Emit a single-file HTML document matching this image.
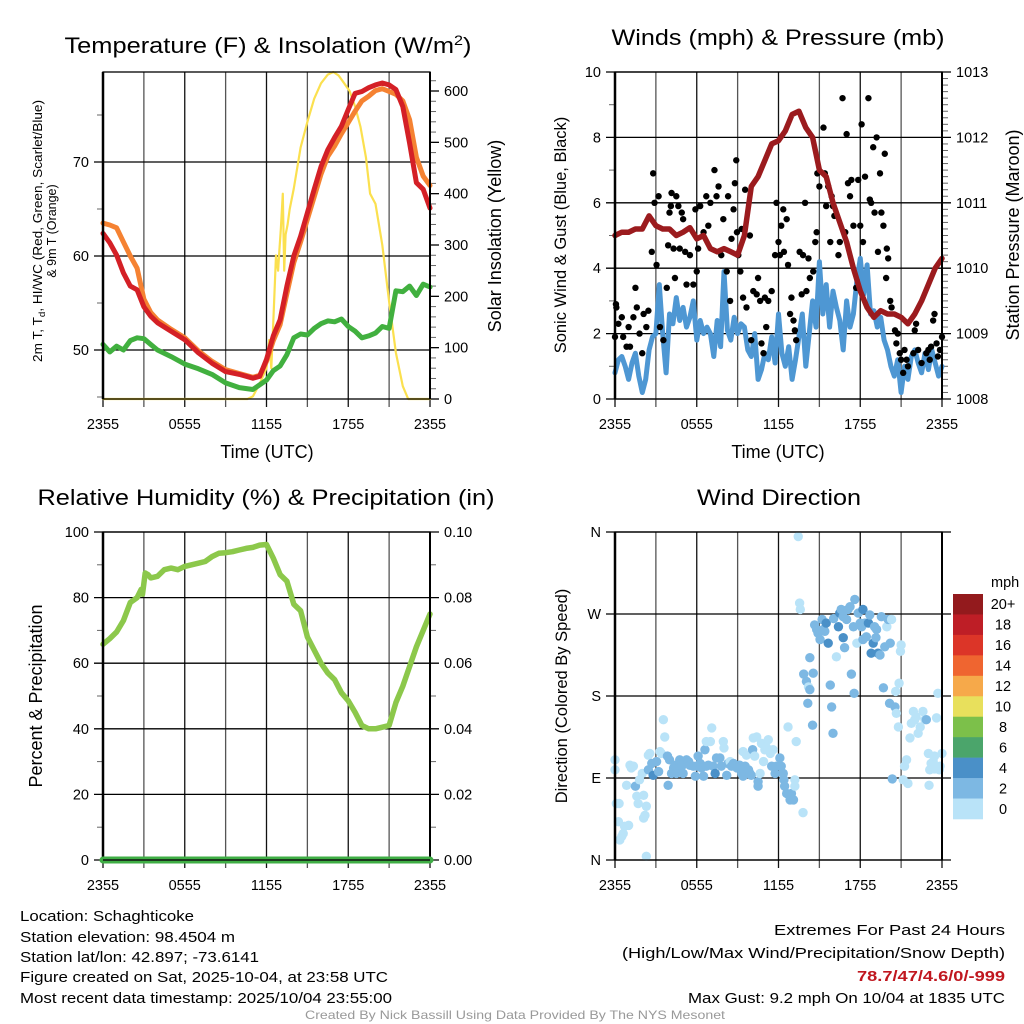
<!DOCTYPE html>
<html><head><meta charset="utf-8"><style>
html,body{margin:0;padding:0;background:#fff;}
svg{display:block;font-family:"Liberation Sans",sans-serif;}
</style></head><body>
<svg id="fig" width="1024" height="1024" viewBox="0 0 1024 1024" xmlns="http://www.w3.org/2000/svg">
<rect width="1024" height="1024" fill="#fff"/>
<g id="p1"></g>
<g id="p2"></g>
<g id="p3"></g>
<g id="p4"></g>
<g font-size="22" fill="#000">
<text x="268" y="53" text-anchor="middle" textLength="407" lengthAdjust="spacingAndGlyphs">Temperature (F) &amp; Insolation (W/m<tspan dy="-8" font-size="14">2</tspan><tspan dy="8">)</tspan></text>
<text x="778" y="45" text-anchor="middle" textLength="333" lengthAdjust="spacingAndGlyphs">Winds (mph) &amp; Pressure (mb)</text>
<text x="266" y="505" text-anchor="middle" textLength="457" lengthAdjust="spacingAndGlyphs">Relative Humidity (%) &amp; Precipitation (in)</text>
<text x="779" y="505" text-anchor="middle" textLength="164" lengthAdjust="spacingAndGlyphs">Wind Direction</text>
</g>
<g fill="#000">
<text x="267" y="458" font-size="18" text-anchor="middle">Time (UTC)</text>
<text x="778" y="458" font-size="18" text-anchor="middle">Time (UTC)</text>
<text transform="translate(42,231) rotate(-90)" font-size="12.5" text-anchor="middle" textLength="262" lengthAdjust="spacingAndGlyphs">2m T, T<tspan dy="3" font-size="9">d</tspan><tspan dy="-3">, HI/WC (Red, Green, Scarlet/Blue)</tspan></text>
<text transform="translate(56,231) rotate(-90)" font-size="12.5" text-anchor="middle">&amp; 9m T (Orange)</text>
<text transform="translate(501,236) rotate(-90)" font-size="18" text-anchor="middle">Solar Insolation (Yellow)</text>
<text transform="translate(566,235) rotate(-90)" font-size="16.5" text-anchor="middle">Sonic Wind &amp; Gust (Blue, Black)</text>
<text transform="translate(1019,235) rotate(-90)" font-size="18" text-anchor="middle">Station Pressure (Maroon)</text>
<text transform="translate(42,696) rotate(-90)" font-size="18" text-anchor="middle">Percent &amp; Precipitation</text>
<text transform="translate(567,696) rotate(-90)" font-size="16.5" text-anchor="middle">Direction (Colored By Speed)</text>
</g>
<g font-size="15" fill="#000">
<text x="20" y="921" textLength="174" lengthAdjust="spacingAndGlyphs">Location: Schaghticoke</text>
<text x="20" y="942" textLength="215" lengthAdjust="spacingAndGlyphs">Station elevation: 98.4504 m</text>
<text x="20" y="962" textLength="239" lengthAdjust="spacingAndGlyphs">Station lat/lon: 42.897; -73.6141</text>
<text x="20" y="982" textLength="368" lengthAdjust="spacingAndGlyphs">Figure created on Sat, 2025-10-04, at 23:58 UTC</text>
<text x="20" y="1003" textLength="372" lengthAdjust="spacingAndGlyphs">Most recent data timestamp: 2025/10/04 23:55:00</text>
<text x="1005" y="935" text-anchor="end" textLength="231" lengthAdjust="spacingAndGlyphs">Extremes For Past 24 Hours</text>
<text x="1005" y="958" text-anchor="end" textLength="383" lengthAdjust="spacingAndGlyphs">(High/Low/Max Wind/Precipitation/Snow Depth)</text>
<text x="1005" y="981" text-anchor="end" textLength="148" lengthAdjust="spacingAndGlyphs" fill="#c0171f" font-weight="bold">78.7/47/4.6/0/-999</text>
<text x="1005" y="1003" text-anchor="end" textLength="317" lengthAdjust="spacingAndGlyphs">Max Gust: 9.2 mph On 10/04 at 1835 UTC</text>
<text x="515" y="1019" text-anchor="middle" font-size="12" fill="#999" textLength="420" lengthAdjust="spacingAndGlyphs">Created By Nick Bassill Using Data Provided By The NYS Mesonet</text>
</g>
</svg>
<script>
// ---- time axis ----
const timeTicks = [0, 6, 12, 18, 24];
const timeTickLabels = ["2355", "0555", "1155", "1755", "2355"];
// ---- temperature panel data (hours since 2355) ----
const tHours = [0,0.5,1,1.5,2,2.5,3,3.5,4,5,6,7,8,9,10,11,11.5,12,12.5,13,13.5,14,14.5,15,15.5,16,16.5,17,17.5,18,18.5,19,19.5,20,20.5,21,21.5,22,22.5,23,23.5,24];
const airTemp = [62.4,61.4,60.1,58.2,56.8,56.4,54.6,53.6,52.9,52.0,51.1,49.7,48.6,47.7,47.4,47.0,47.2,49.0,51.5,53.2,56.8,60.0,62.1,64.6,67.1,69.5,71.3,72.6,73.8,75.6,77.3,77.5,77.9,78.2,78.4,78.2,77.7,75.9,72.0,67.8,67.1,65.1];
const temp9m = [63.5,63.3,63.0,61.5,60.0,58.7,55.4,54.0,53.2,52.2,51.3,49.9,48.8,47.9,47.5,47.1,47.3,48.8,51.0,52.7,56.0,59.3,61.5,63.9,66.3,68.7,70.6,71.7,73.0,74.2,75.4,76.5,77.0,77.6,77.8,77.5,77.2,76.5,74.5,70.5,68.5,67.5];
const dewPoint = [50.6,49.8,50.4,50.0,51.0,51.3,51.2,50.6,50.0,49.3,48.5,48.0,47.4,46.5,46.0,45.8,46.3,46.8,47.8,48.3,49.5,51.3,51.7,51.6,52.3,52.8,53.1,53.0,53.3,52.5,52.0,51.3,51.5,51.8,52.5,52.3,56.3,56.2,56.8,55.8,57.0,56.7];
const solarHours = [0,10.6,11,11.5,12,12.2,12.35,12.5,12.7,12.85,12.95,13.05,13.2,13.3,13.4,13.55,13.7,14,14.5,15,15.5,16,16.5,16.9,17.3,17.7,18.1,18.5,18.9,19.3,19.6,20,20.5,21,21.5,22,22.4,24];
const solarVals = [0,0,5,30,60,115,60,150,280,250,290,330,400,250,320,340,370,410,490,540,585,615,632,637,630,615,600,570,530,470,400,380,300,190,90,25,0,0];
// ---- wind panel data ----
const windHours = []; for (let i = 0; i <= 96; i++) windHours.push(i / 4);
const windSpeed = [0.8,1.2,1.3,1.0,0.6,1.1,1.4,0.7,0.2,0.6,1.5,1.9,2.0,3.5,2.0,0.8,2.6,2.3,3.1,2.4,2.8,2.2,2.5,3.0,1.8,2.4,2.0,2.2,2.0,1.3,2.4,1.6,3.9,2.1,1.8,2.5,2.0,2.3,2.2,1.5,1.3,2.0,0.6,0.9,1.4,1.2,1.9,1.1,2.6,1.4,1.0,1.6,0.6,1.2,1.9,2.6,1.0,2.0,3.0,2.2,4.2,2.6,3.5,2.2,3.3,2.8,2.4,1.5,3.0,2.2,2.6,3.6,4.3,3.2,4.1,2.6,2.7,2.2,2.5,1.8,1.5,1.0,0.7,1.2,0.2,1.0,0.6,1.3,1.5,1.1,0.8,1.4,0.9,1.5,1.1,0.7,1.0];
const presHours = [0,0.5,1,1.5,2,2.5,3,3.5,4,4.5,5,5.5,6,6.5,7,7.5,8,8.5,9,9.5,10,10.5,11,11.5,12,12.5,13,13.5,14,14.5,15,15.5,16,16.5,17,17.5,18,18.5,19,19.5,20,20.5,21,21.5,22,22.5,23,23.5,24];
const pressure = [1010.5,1010.55,1010.55,1010.6,1010.6,1010.8,1010.65,1010.6,1010.6,1010.5,1010.55,1010.62,1010.45,1010.5,1010.3,1010.25,1010.3,1010.25,1010.2,1010.5,1011.25,1011.4,1011.65,1011.9,1011.95,1012.1,1012.35,1012.4,1012.15,1012.0,1011.5,1011.4,1011.0,1010.7,1010.4,1010.0,1009.65,1009.4,1009.25,1009.35,1009.3,1009.3,1009.25,1009.15,1009.3,1009.5,1009.75,1010.0,1010.15];
const gustHours = [0,0.07,0.1,0.25,0.5,0.6,0.85,1.0,1.1,1.35,1.5,1.6,1.8,2.0,2.1,2.3,2.45,2.7,2.8,2.9,3.05,3.2,3.3,3.55,3.8,3.9,4.0,4.1,4.15,4.3,4.4,4.5,4.65,4.75,4.9,5.0,5.15,5.25,5.5,5.75,5.9,6.0,6.1,6.25,6.5,6.7,6.85,7.0,7.3,7.45,7.6,7.8,7.95,8.2,8.3,8.45,8.55,8.7,8.8,8.9,8.95,9.05,9.2,9.3,9.4,9.55,9.65,9.9,10.0,10.15,10.4,10.5,10.65,10.75,10.9,11.0,11.1,11.25,11.5,11.75,11.85,12.0,12.1,12.2,12.35,12.4,12.6,12.7,12.85,12.95,13.1,13.2,13.3,13.55,13.7,13.8,13.95,14.05,14.2,14.3,14.55,14.7,14.8,14.85,15.0,15.3,15.4,15.5,15.65,15.8,15.9,16.0,16.1,16.4,16.5,16.7,16.9,17.0,17.1,17.25,17.35,17.5,17.7,17.85,18.0,18.1,18.2,18.35,18.6,18.7,18.8,18.95,19.05,19.2,19.3,19.45,19.55,19.7,19.8,19.9,19.95,20.05,20.2,20.3,20.55,20.65,20.75,20.9,21.0,21.15,21.25,21.4,21.5,21.9,22.0,22.1,22.25,22.5,22.85,23.0,23.1,23.2,23.35,23.45,23.6,23.7,23.85,24.0];
const gustVals = [1.9,2.9,2.8,2.3,2.5,1.9,1.6,2.2,1.6,2.5,3.4,2.8,2.0,1.4,2.6,2.2,2.7,4.5,6.9,6.0,4.1,6.2,2.2,1.8,3.4,4.7,5.7,5.9,6.3,4.6,3.7,6.2,5.9,4.6,5.7,5.5,4.5,3.5,4.4,3.5,5.8,3.9,4.6,5.9,5.1,6.2,5.3,6.0,7.0,6.2,6.5,4.4,5.5,3.9,6.2,3.0,4.9,5.8,6.6,7.3,5.1,4.4,3.9,5.2,3.1,6.4,2.8,5.0,1.8,3.3,3.2,3.7,3.0,1.7,1.4,3.1,2.2,3.0,3.3,4.4,6.0,4.8,4.4,5.3,5.8,4.5,5.5,4.1,2.6,3.1,2.4,2.1,1.8,4.5,3.2,4.4,6.0,3.3,4.3,3.7,3.9,4.8,5.1,6.9,6.5,8.3,6.9,5.9,6.5,4.8,6.2,5.9,5.6,4.4,4.8,9.2,5.1,8.1,6.6,6.2,6.7,5.3,3.4,6.7,5.3,8.4,4.8,6.8,9.2,6.1,6.0,7.7,5.7,8.0,4.5,6.9,5.7,5.3,7.5,3.7,4.6,4.3,3.0,2.8,2.1,1.7,2.0,1.4,1.2,0.8,1.5,1.2,1.0,1.4,2.1,2.3,1.5,1.1,1.4,1.5,1.2,1.6,2.4,2.6,1.7,1.3,1.5,1.9];
// ---- humidity panel data ----
const rhHours = [0,0.5,1,1.5,2,2.5,2.8,2.9,3.1,3.3,3.5,4,4.5,5,5.5,6,6.5,7,7.5,8,8.5,9,9.5,10,10.5,11,11.5,12,12.5,13,13.5,14,14.5,15,15.5,16,16.5,17,17.5,18,18.5,19,19.5,20,20.5,21,21.5,22,22.5,23,23.5,24];
const rhVals = [65.8,67.5,69.5,73,78.5,80,82.5,81,87.5,87,86,86.5,88.5,89,88.5,89.5,90,90.5,91,92.5,93.5,93.7,94,94.5,95,95.3,96,96.2,92,87,85,78,76,68,64,60,57,55,51,48.5,45,41,40,40,40.5,41,48,53,59,65,70,75];
const precipHours = [0, 24];
const precipVals = [0, 0];
// ---- wind direction data ----
const dirHours = [0,0,0.1,0.25,0.3,0.35,0.5,0.6,0.7,1.0,0.85,1.1,1.2,1.35,1.5,1.6,1.7,1.8,2.0,2.1,2.1,2.2,2.3,2.3,2.45,2.55,2.45,2.7,2.8,3.05,3.2,3.3,3.4,3.55,3.65,3.85,3.9,4.0,4.15,4.3,4.4,4.5,4.65,4.75,4.9,5.0,5.25,5.4,5.5,5.75,5.9,6.0,6.1,6.25,6.35,6.5,6.6,6.7,6.7,6.85,7.0,7.1,7.2,7.35,7.45,7.7,7.8,7.95,8.0,8.2,8.3,8.45,8.55,8.7,8.95,9.15,9.3,9.4,9.4,9.55,9.65,9.8,9.9,10.0,10.1,10.15,10.25,10.4,10.5,10.5,10.65,10.75,10.9,11.0,11.1,11.25,11.4,11.5,11.6,11.75,11.85,12.1,12.2,12.35,12.4,12.45,12.6,12.7,12.85,12.95,13.1,13.2,13.3,13.2,13.45,13.55,13.6,13.8,13.85,14.05,14.2,14.3,14.15,14.5,14.3,14.55,14.65,14.8,14.9,15.05,15.2,15.3,15.4,15.5,15.65,15.8,15.9,16.0,16.05,16.25,16.4,16.5,16.6,16.75,16.75,16.85,17.0,17.1,17.25,17.35,17.5,17.6,17.55,17.75,17.85,18.0,18.1,18.2,18.2,18.35,18.45,18.6,18.7,18.8,18.95,19.05,19.15,19.2,19.3,19.45,19.55,19.7,19.8,19.95,20.05,20.15,20.2,20.3,20.35,20.55,20.6,20.65,20.8,20.85,20.95,21.0,21.15,21.25,21.4,21.5,21.65,21.75,21.9,22.0,22.1,22.25,22.4,22.6,22.75,22.85,23.0,23.05,23.1,23.2,23.35,23.45,23.6,23.7,23.85,24.0,23.8,23.45];
const dirDeg = [110,99,62,42,62,22,26,29,37,38,82,104,101,103,81,70,62,88,95,71,46,49,59,4,115,117,99,106,93,108,97,119,117,154,135,114,82,110,95,101,104,95,101,110,103,95,110,108,104,103,92,103,114,106,101,92,121,103,130,104,130,145,103,95,112,112,103,130,123,93,106,108,103,106,101,104,95,92,119,103,115,99,95,93,121,134,114,135,86,81,95,128,108,121,124,132,117,103,121,95,103,112,103,95,88,81,73,146,66,73,66,81,130,88,355,282,275,52,204,196,190,187,172,148,222,205,258,253,249,242,264,253,251,260,238,192,168,139,265,223,256,271,275,267,244,233,264,275,278,204,256,286,183,238,271,260,256,275,242,260,245,260,269,227,238,256,244,253,227,225,267,189,234,256,264,172,238,264,89,168,185,161,146,194,229,236,88,103,110,84,134,150,163,154,157,139,146,163,154,154,117,82,99,106,108,114,156,183,103,117,99,100];
const dirSpeed = [1,1,1,1,1,1,1,1,1,1,1,1,1,1,3,1,1,1,1,1,1,1,1,1,1,1,3,3,5,3,3,1,1,1,1,3,3,3,3,3,3,3,3,3,3,3,3,3,3,3,3,3,3,3,3,3,3,3,1,3,1,1,3,5,3,3,3,1,1,3,3,1,3,3,3,3,3,3,1,3,1,3,3,3,3,1,1,1,3,3,1,1,1,1,1,1,1,3,1,3,3,3,3,3,3,3,3,1,3,3,3,1,1,1,1,1,1,1,3,3,1,3,3,3,3,3,3,3,3,3,3,3,3,5,5,3,3,3,3,1,5,5,3,3,5,3,3,3,3,3,3,3,3,1,3,3,3,5,3,3,3,5,3,5,5,3,3,3,5,3,3,3,3,1,3,3,3,1,3,3,1,1,1,1,1,1,1,1,1,1,1,1,1,1,1,1,1,1,1,3,1,1,1,1,1,1,1,1,1,1,1,1,1,1,1,1];
const cbLabels = ["20+","18","16","14","12","10","8","6","4","2","0"];
const cbColors = ["#931a1d","#be1e26","#dc3528","#ef6530","#f6a94a","#e8e05c","#7cc04a","#4ba56b","#4a90c8","#7db8e3","#b9e3f8"];

const NS = "http://www.w3.org/2000/svg";
function mk(parent, tag, attrs) {
  const el = document.createElementNS(NS, tag);
  for (const k in attrs) el.setAttribute(k, attrs[k]);
  parent.appendChild(el);
  return el;
}
function lin(d0, d1, r0, r1) { return v => r0 + (v - d0) / (d1 - d0) * (r1 - r0); }

function frame(g, P, hTicksL, yL, labelsL, rightTicks, yR, labelsR, extendRight, prefix) {
  const xs = lin(0, 24, P.x0, P.x1);
  for (let h = 0; h <= 24; h += 3) {
    const l = mk(g, "line", {x1: xs(h), x2: xs(h), y1: P.y0, y2: P.y1 + 8, stroke: (h % 6 === 0) ? "#111" : "#555", "stroke-width": 1.3});
    
    
  }
  timeTicks.forEach((h, i) => {
    const t = mk(g, "text", {x: xs(h), y: P.y1 + 30, "font-size": 14.5, "text-anchor": "middle"});
    t.textContent = timeTickLabels[i];
    
    
  });
  hTicksL.forEach((v, i) => {
    const y = yL(v);
    const l = mk(g, "line", {x1: P.x0 - 9, x2: extendRight ? P.x1 + 9 : P.x1, y1: y, y2: y, stroke: "#000", "stroke-width": 1.3});
    
    
    const t = mk(g, "text", {x: P.x0 - 14, y: y + 5, "font-size": 14.5, "text-anchor": "end"});
    t.textContent = labelsL[i];
    
    
  });
  rightTicks.forEach((v, i) => {
    const y = yR(v);
    if (!extendRight) {
      const l = mk(g, "line", {x1: P.x1, x2: P.x1 + 9, y1: y, y2: y, stroke: "#000", "stroke-width": 1.3});
      
      
    }
    if (labelsR) {
      const t = mk(g, "text", {x: P.x1 + 14, y: y + 5, "font-size": 14.5});
      t.textContent = labelsR[i];
      
      
    }
  });
  return xs;
}
function borders(g, P, prefix) {
  const r = mk(g, "rect", {x: P.x0, y: P.y0, width: P.x1 - P.x0, height: P.y1 - P.y0, fill: "none", stroke: "#000", "stroke-width": 1.3});
  
  
  const l = mk(g, "line", {x1: P.x0, x2: P.x0, y1: P.y0, y2: P.y1, stroke: "#000", "stroke-width": 2.5});
  
  
  const l2 = mk(g, "line", {x1: P.x1, x2: P.x1, y1: P.y0, y2: P.y1, stroke: "#000", "stroke-width": 2});
  
  
}
function minor(g, P, side, ys, vals, prefix) {
  vals.forEach(v => {
    const y = ys(v);
    const x = side === "L" ? P.x0 : P.x1;
    const l = mk(g, "line", {x1: x, x2: side === "L" ? x - 6 : x + 6, y1: y, y2: y, stroke: "#666", "stroke-width": 1});
    
    
  });
}
function path(g, xs, ys, hx, vy, color, w, name) {
  const d = hx.map((h, i) => (i ? "L" : "M") + xs(h).toFixed(1) + "," + ys(vy[i]).toFixed(1)).join("");
  const p = mk(g, "path", {d: d, fill: "none", stroke: color, "stroke-width": w, "stroke-linejoin": "round", "stroke-linecap": "round"});
  
  
  return p;
}

// ---- Panel 1 ----
(function () {
  const g = document.getElementById("p1");
  const P = {x0: 103, x1: 430, y0: 72, y1: 399};
  const yL = lin(50, 70, 350, 162);
  const yR = lin(0, 600, 399, 91);
  const xs = frame(g, P, [50, 60, 70], yL, ["50", "60", "70"], [0,100,200,300,400,500,600], yR, ["0","100","200","300","400","500","600"], false, "temp");
  minor(g, P, "L", yL, [45, 55, 65, 75], "temp");
  minor(g, P, "R", yR, [20,40,60,80,120,140,160,180,220,240,260,280,320,340,360,380,420,440,460,480,520,540,560,580,620], "temp");
  path(g, xs, yR, solarHours, solarVals, "#fbe04f", 2.2, "solar-insolation-line");
  path(g, xs, yL, tHours, dewPoint, "#41b03f", 5, "dew-point-line");
  path(g, xs, yL, tHours, temp9m, "#f58232", 5, "temp-9m-line");
  path(g, xs, yL, tHours, airTemp, "#d42026", 5, "air-temp-line");
  borders(g, P, "temp");
})();

// ---- Panel 2 ----
(function () {
  const g = document.getElementById("p2");
  const P = {x0: 615, x1: 942, y0: 72, y1: 399};
  const yL = lin(0, 10, 399, 72);
  const yR = lin(1008, 1013, 399, 72);
  const xs = frame(g, P, [0, 2, 4, 6, 8, 10], yL, ["0","2","4","6","8","10"], [1008,1009,1010,1011,1012,1013], yR, ["1008","1009","1010","1011","1012","1013"], true, "wind");
  const mv = []; for (let i = 1; i < 50; i++) if (i % 10) mv.push(1008 + i / 10);
  minor(g, P, "R", yR, mv, "wind");
  minor(g, P, "L", yL, [1, 3, 5, 7, 9], "wind");
  path(g, xs, yL, windHours, windSpeed, "#4e97d3", 5, "sonic-wind-line");
  gustHours.forEach((h, i) => {
    const c = mk(g, "circle", {cx: xs(h), cy: yL(gustVals[i]), r: 3.2, fill: "#000"});
    
    
  });
  path(g, xs, yR, presHours, pressure, "#9b1b1e", 5.5, "station-pressure-line");
  borders(g, P, "wind");
})();

// ---- Panel 3 ----
(function () {
  const g = document.getElementById("p3");
  const P = {x0: 103, x1: 430, y0: 532, y1: 860};
  const yL = lin(0, 100, 860, 532);
  const yR = lin(0, 0.1, 860, 532);
  const xs = frame(g, P, [0,20,40,60,80,100], yL, ["0","20","40","60","80","100"], [0,0.02,0.04,0.06,0.08,0.1], yR, ["0.00","0.02","0.04","0.06","0.08","0.10"], true, "rh");
  minor(g, P, "L", yL, [10,30,50,70,90], "rh");
  minor(g, P, "R", yR, [0.01,0.03,0.05,0.07,0.09], "rh");
  path(g, xs, yL, rhHours, rhVals, "#8cc84b", 5.5, "relative-humidity-line");
  borders(g, P, "rh");
  path(g, xs, yR, precipHours, precipVals, "#3fae45", 7, "precipitation-line");
  const base = mk(g, "line", {x1: P.x0, x2: P.x1, y1: P.y1, y2: P.y1, stroke: "#111", "stroke-width": 1.5});
  
  
})();

// ---- Panel 4 ----
(function () {
  const g = document.getElementById("p4");
  const P = {x0: 615, x1: 942, y0: 532, y1: 860};
  const yD = lin(0, 360, 860, 532);
  const xs = frame(g, P, [0, 90, 180, 270, 360], yD, ["N","E","S","W","N"], [0,90,180,270,360], yD, null, true, "dir");
  const spdColor = s => s >= 4 ? cbColors[8] : (s >= 2 ? cbColors[9] : cbColors[10]);
  dirHours.forEach((h, i) => {
    const c = mk(g, "circle", {cx: xs(h), cy: yD(dirDeg[i]), r: 4.7, fill: spdColor(dirSpeed[i])});
    
    
  });
  borders(g, P, "dir");
  const cb = mk(g, "g", {});
  
  
  const bh = (819 - 594) / cbLabels.length;
  cbLabels.forEach((lab, i) => {
    const r = mk(cb, "rect", {x: 953, y: 594 + i * bh, width: 30, height: bh + 0.3, fill: cbColors[i]});
    
    
    const t = mk(cb, "text", {x: 1003, y: 594 + i * bh + bh / 2 + 5, "font-size": 14.5, "text-anchor": "middle"});
    t.textContent = lab;
    
    
  });
  const u = mk(cb, "text", {x: 991, y: 587, "font-size": 14.5});
  u.textContent = "mph";
  
  
})();
</script>
</body></html>
